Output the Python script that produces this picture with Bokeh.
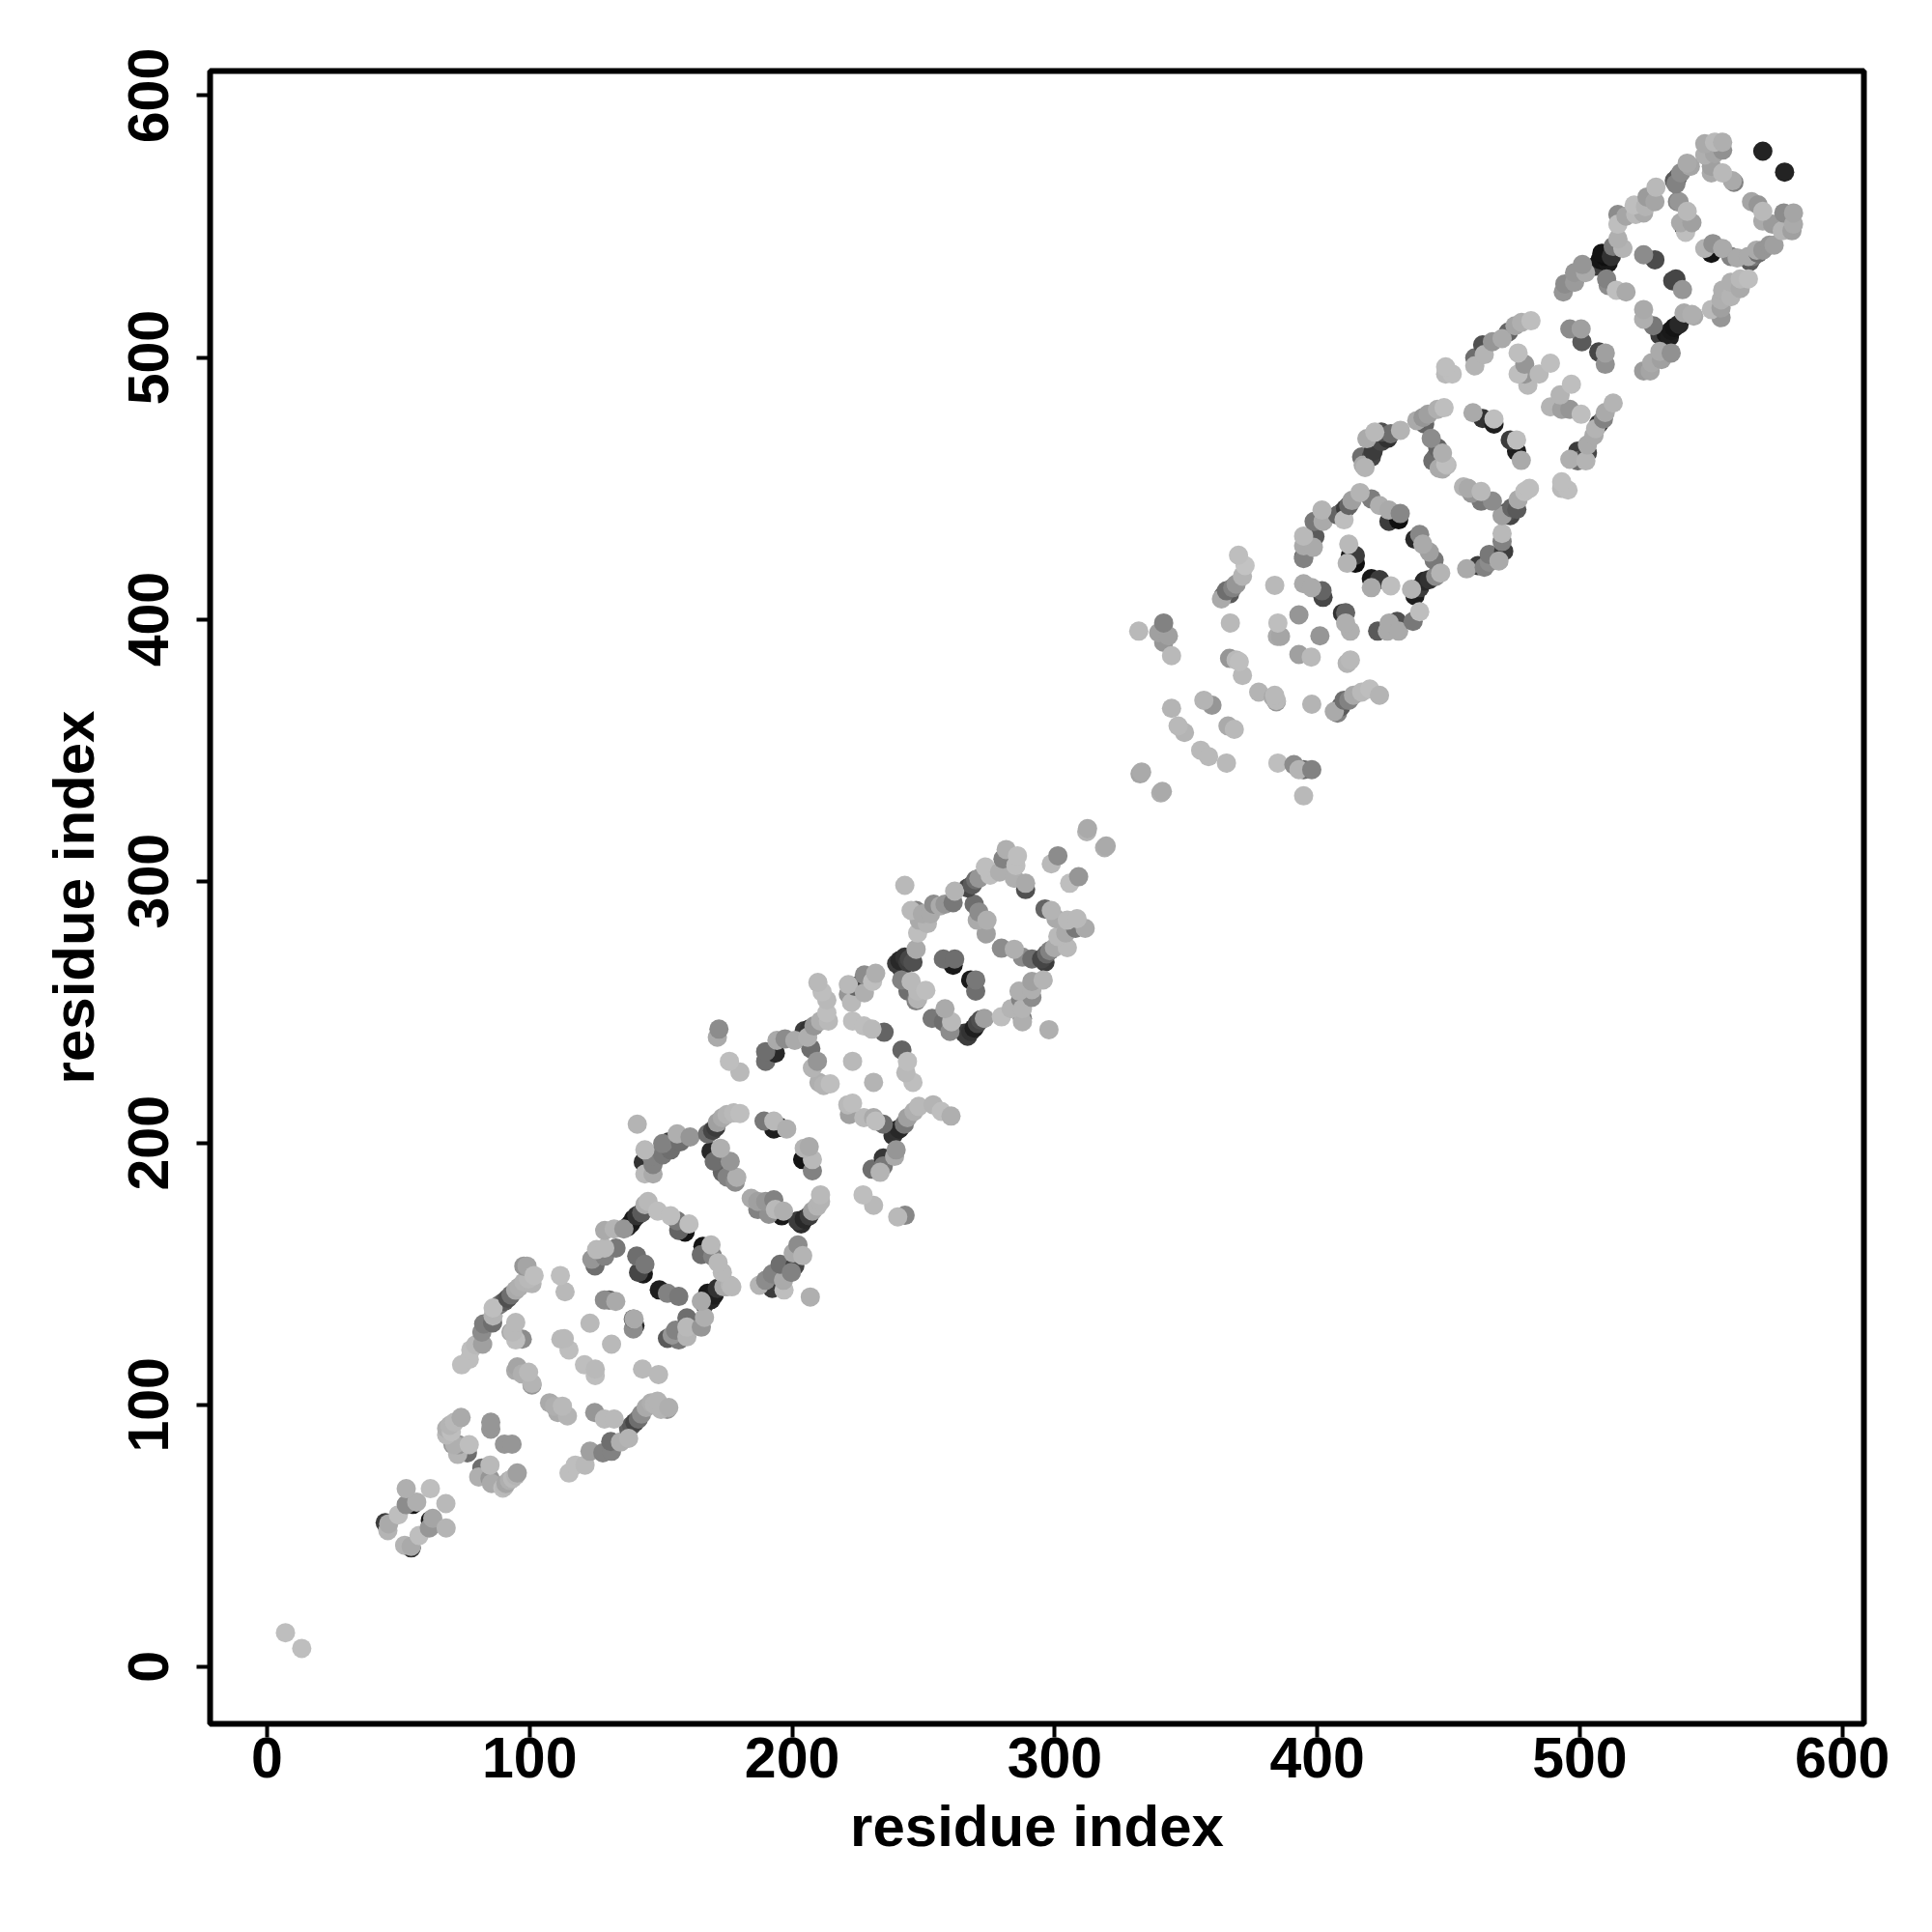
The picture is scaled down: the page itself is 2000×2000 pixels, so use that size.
from bokeh.plotting import figure
from bokeh.models import ColumnDataSource, FixedTicker, LinearColorMapper, Range1d
from bokeh.embed import file_html
from bokeh.resources import INLINE

# (residue i, residue j, grey level), one list per helix region
region_ends = [(7,13,190),(13.2,7,190),(569.7,578.8,35),(578,570.8,35)]
region_a = [(53,68,175),(62.2,68,190),(68.1,62.3,185),(68.2,53,180),(53,61.9,140),(55.5,62,20),(57,62.9,175),
 (62.2,55.9,25),(63.1,56.7,165),(61.8,53,150),(57.9,50.1,190),(50,58,190),(45,55,60),(46.3,54.6,170),(46,52,180),
 (52.4,46.4,180),(54.9,45.4,50),(54.9,46,170)]
region_b = [(68.4,91,175),(69.6,92.2,180),(71.4,93.4,185),(73.9,95.2,170),(70.2,89.7,190),(68.4,88.5,185),
 (85.2,93.4,150),(85.2,90.7,150),(90.4,85,150),(93.3,85,150),(71.4,84.8,175),(72.6,81.1,180),(70.8,84.8,150),
 (76.3,81.7,110),(72.9,84.8,150),(77,84.8,190),(81.8,75.9,110),(80.6,72.5,175),(84.9,71.9,150),(84.9,77,185),
 (85.5,70,170),(90.4,68.8,185),(91,70,165),(92.3,71.2,175),(93.5,71.9,185),(95.3,74,160),(89.8,68.2,190),(94.7,73,180)]
region_c = [(74.1,115.3,190),(77,117.4,190),(77.6,121,190),(79.4,122.9,185),(82.1,123.2,160),(81.8,127.8,140),
 (82.5,130.9,125),(85.9,131.3,110),(86.1,137,190),(86.1,134,180),(88.6,138.3,120),(90.4,139.5,90),(91.7,140.7,80),
 (92.9,142,110),(94.7,143.8,170),(96,145,175),(97.8,146.9,180),(99.6,148.1,185),(97.8,153,150),(99,153,165),
 (101.7,149.4,190),(100.9,146.3,180),(94.7,131.5,185),(93.5,127.8,185),(97.2,125.1,140),(94.7,124.8,190),(92.9,127.8,170),
 (111.7,149.4,190),(113.5,143.2,185),(123,131.2,185),(111.9,125.1,185),(113.2,125.3,185),(115,121,190),(120.9,115.3,190),
 (125,113.7,185),(125,111.2,190),(131.2,123.2,185),(143,113.7,185),(149.1,111.6,185),
 (128.5,140.1,140),(132.8,139.5,170),(130.3,140.1,100),(139.5,132.8,110),(139.8,132.8,170),(139.5,129,140),(140.1,130.3,40)]
region_d = [(95.3,114.5,165),(94.7,113.1,170),(97.2,111.8,175),(99.6,112.5,185),(100.9,108.2,180),(100.9,107.6,150),
 (107.6,100.8,170),(109.5,99.5,175),(112.5,99.5,185),(114.4,95.8,180),(110.7,97.1,170),(124.8,97.1,150),(128.5,94.6,185),
 (132.2,94.6,185),(115,74,190),(117.4,77,190),(121.1,77,185),(123,82.3,160),(127.9,81.7,130),(131.2,82.3,130),(130.9,86,110),
 (134.6,85.8,175),(137.7,87.2,180),(137.7,91,100),(138.9,92.2,90),(140.1,93.4,70),(141.4,94.6,110),(142.6,96.5,140),
 (144.4,99,170),(146.3,100.8,175),(148.7,101.4,180),(152.4,98.3,150),(153,99,175),(150,98.3,180),(147.5,100.2,180)]
region_e = [(124.9,153.1,110),(125.5,159.3,185),(123.7,155.6,150),(128.6,156.8,130),(132.9,159.9,120),(128.6,159.9,185),
 (128.6,166.6,170),(132.2,167.2,180),(135.9,167.2,150),(137.2,167.9,40),(138.4,169.1,30),(139.6,171,25),(140.8,172.2,50),
 (142.7,173.4,90),(143.9,176.5,175),(145.1,177.7,185),(148.8,174,190),(153.7,172.2,190),(156.2,170.3,120),(156.8,166.6,100),
 (159.2,166,20),(160.7,169.1,190),(166,160.5,20),(165.4,157.4,110),(169.1,161.1,185),(169.7,156.8,130),(171.8,154.3,185),
 (173.4,150.6,185),(176.4,145.7,180),(174,145.1,170),(167.8,142.6,25),(170.3,142,30),(169.1,140.2,40),(166.6,138.3,60),
 (171.5,144.5,50),(175.2,145.1,170),(177,145.1,185),(165.4,139.6,170),(166.6,133.4,175),(165.4,129.7,150),(159.9,133.2,110),
 (159.9,129.7,185),(155.6,128.5,130),(159.9,126,180),(152.5,125.4,90),(156.8,124.8,120),(154.3,126.7,150),
 (140.8,156.8,110),(143.9,153.7,120),(143.3,150,25),(141.5,150.6,70),(149.4,143.9,30),(152.5,142.6,130),(156.8,141.4,120)]
region_f = [(141,207.2,180),(143.9,197.4,185),(143.3,192.7,50),(147,191.8,130),(143.9,188.2,185),(147,188.2,170),(146.4,194.9,130),
 (150.7,195.5,120),(153.7,197.4,110),(150.7,199.8,130),(153.1,200.5,60),(156.2,203.5,175),(157.4,200.5,110),(161.1,202.3,150),
 (167.8,203.5,110),(169.7,204.8,70),(170.9,206,60),(171.5,207.8,160),(173.4,209.7,170),(175.2,210.9,180),(177.7,211.5,185),
 (180.1,211.3,190),(169.1,196.8,40),(172.7,198,175),(170.3,193,110),(173.4,188.8,100),(176.4,193,150),(175.2,187,130),
 (178.9,186.9,175),(178.3,185.1,140),(189.3,208.4,120),(193,208.4,185),(193,205.4,30),(195.4,206,30),(197.9,205.4,175),
 (204.6,198,180),(206.5,198.6,170),(204,193.7,20),(207.7,193.7,185),(207.7,189.4,130)]
region_g = [(184.4,178.9,170),(186.9,177.7,160),(189.9,177.7,150),(193,178.3,130),(186.9,174.6,130),(191.1,172.8,145),(193.6,174.6,185),
 (196.7,174,175),(196,172.2,25),(202.2,170.3,60),(203.4,169.1,45),(204.6,171,40),(206.5,172.2,60),(207.7,174,160),(209.6,175.9,180),
 (210.8,177.7,180),(210.8,180.2,185),(202.2,161.1,140),(204,157,180),(200.4,158,170),(201,153.1,70),(195.4,153.7,110),(199.7,150.6,130),
 (192.4,150,130),(192.4,144.5,60),(187.5,145.7,180),(196.7,147.6,170),(196.9,143.9,190),(206.9,141.2,175),(189.9,147.6,140),
 (172.1,243.5,140),(171.5,240.4,170),(176.1,231.2,190),(180.1,227.1,185),(189.9,234.9,110),(189.9,231.2,110),(193.6,234.3,40),
 (194.2,239.2,170),(197.3,239.8,140),(201,239.2,170)]
region_h = [(204.6,242.9,60),(206.5,243.5,50),(205.9,240.4,175),(208.3,244.7,150),(210.8,246.6,175),(213.2,249.7,190),(213.8,246.6,185),
 (213.2,254.6,185),(211.4,257.7,190),(209.8,261.3,185),(207.1,236.1,110),(209.6,231.2,150),(207.7,228.7,180),(210.2,223.2,175),
 (214.5,222.6,190),(212,222,180),(223,246.6,190),(230.4,243.5,185),(227.3,244.7,190),(235,242.3,100),(223,231.2,185),(231,223.2,180),
 (241.8,235.5,100),(243.9,231.2,190),(243.3,226.9,185),(246,223.2,190),(221.2,214.6,185),(223,215.2,190),(221.8,210.9,160),
 (227.3,209.7,185),(231,209.7,170),(234.7,207.2,110),(231.8,208.4,190),(238.4,202.9,50),(239.6,204.8,50),(240.8,205.4,40),
 (242.7,207.2,120),(243.9,209.7,160),(246.4,212.1,175),(248.2,214,185),(253.7,214.6,180),(256.8,212.1,190),(260.5,210.3,175),
 (239.6,197.4,150),(234.7,194.3,55),(239,194.9,170),(230.4,190,110),(234.7,191.2,120),(233.5,188.8,180),(227,180.2,190),(231,176.2,185),
 (240.2,171.8,185),(243,172.4,135)]
region_i = [(222.6,253.7,185),(221.4,260.5,185),(223.9,259.9,100),(221.4,256.8,150),(227.5,257.4,175),(226.9,261.7,60),(227.5,264.2,140),
 (230.6,261.7,190),(231.8,264.8,175),(242.9,298.4,185),(245.3,288.8,185),(247.2,288.8,130),(251.5,283.8,180),(248.4,285.1,170),
 (247.8,280.2,190),(249.6,287.5,170),(253.9,291.2,140),(252.7,287.5,170),(258.2,291.2,150),(256.4,290.6,170),(261.3,291.8,120),
 (261.9,296.2,180),(266.8,297.4,70),(268.6,298.6,90),(269.9,300.5,110),(271.1,301.1,150),(273.6,305.4,190),(275.4,302.3,190),
 (279,303.5,175),(281.5,312.1,175),(280.3,308.5,130),(285.8,309.7,190),(285.2,306,190),(284.6,301.1,175),(288.9,299.2,170),(288.9,296.8,80),
 (301.2,309.7,140),(298.7,306.6,185),(309.1,301.7,150),(305.7,299.2,190),(312.5,320.1,170),(312.2,318.9,180),(319,312.8,175),(319.6,313.4,170)]
region_j = [(269.3,291.2,110),(271.1,288.2,140),(274.2,285.1,175),(273.9,279.9,160),(270.5,285.1,170),(296.3,289.4,100),(298.7,288.8,180),
 (300.5,285.7,170),(304.8,285.1,185),(308.5,285.7,185),(307.9,282,120),(311.6,282,170),(301.2,278.9,185),(304.2,280.2,170),(304.8,274.6,185),
 (279.7,274.4,140),(284.6,274,175),(287.7,271,140),(291.3,270.3,110),(295,270.3,70),(296.9,272.2,100),(298.1,273.4,130),(296.3,269.1,60),
 (299.9,274.6,170),(239.8,268.5,60),(241,269.7,40),(242.9,271,50),(244.7,270.3,70),(246,269.1,80),(247.2,274,170),(241.7,266.6,40),(244.1,269.1,60),
 (241.7,262.3,130),(245.3,261.7,185),(244.1,258,110),(247.8,258,185),(250.9,258.3,190),(247.2,254.3,130),(247.8,255,180),
 (257.6,270.3,110),(261.9,270.3,110),(261.3,267.9,25),(268,262.3,25),(269.9,262.3,120),(269.9,258,110)]
region_k = [(253.3,247.6,120),(258.2,251.3,170),(257.6,246.3,110),(260.7,246.3,185),(260.1,242.6,140),(265.6,242,60),(266.8,240.8,60),(268,242.6,50),
 (269.3,243.9,30),(270.5,245.7,70),(271.7,247,80),(273.2,247.6,160),(279.7,248.2,190),(283.4,251.3,180),(287.7,247.6,120),(287.7,251.3,180),
 (287,255,130),(286.4,258,175),(291.3,255.6,140),(291.3,258.6,175),(291.3,261.7,160),(295.6,262.3,180),(287.7,246.3,175),(297.8,243.3,175),
 (332.5,341,165),(333.1,341.7,170),(340.4,333.7,175),(341,334.3,170)]
region_l = [(332,395.5,185),(341.5,398.6,130),(339.6,394.9,160),(343.3,393.7,160),(341.5,391.2,150),(344.5,386.1,185),(344.5,366,180),(347,359.3,185),
 (349.4,356.8,180),(355.6,350,185),(358.6,347.6,185),(365.4,345.1,185),(356.8,369.1,180),(359.9,367.2,150),(366,359.3,170),(368.4,358,185),
 (366.9,398.6,185),(370,424.5,190),(372.5,420.5,195),(371.5,416.5,180),(365.4,410.9,110),(364.2,409,100),(367.8,412.1,130),(363.5,407.8,170),
 (366.6,409.7,90),(369.1,413.4,150),(383.8,413,185),(366.6,385.1,150),(370.3,383.8,190),(369.1,384.5,185),(371.5,378.6,185),(377.7,372.2,180),
 (383.2,370.3,170),(384.4,368.5,150),(383.8,371,185),(384.4,369,185),(385,398.6,190),(386,393.5,165),(384.8,393.5,170),(393,401.7,150),(401,393.7,150),
 (393,386.6,160),(397.7,385.6,185),(394.8,413.6,170),(397.9,412.1,170),(401.8,410.9,100),(402.2,408.4,70),(385,345.1,190),(391.1,344.5,140),
 (393,342.6,180),(394.8,342.6,110),(397.9,342.6,130),(394.8,332.6,185),(397.9,367.6,180)]
region_m = [(407.7,364.2,130),(408.9,366.6,90),(410.2,369.1,110),(412,369.1,130),(413.8,371,170),(416.9,372.2,185),(420,373.4,190),(423.7,371,180),
 (406.5,364.8,170),(412.6,384.5,185),(411.4,383.2,180),(409.6,402.3,50),(410.8,402.5,100),(410.8,398.6,175),(412.6,395.5,175),(412,428.7,185),
 (414.5,424.4,60),(412.6,424.4,25),(414.5,421.4,15),(411.4,421.4,180),(420.6,415.5,25),(423.7,415.2,60),(428,412.8,190),(420.6,412.1,170),
 (427.4,398.6,170),(423,395.5,90),(430.4,399.2,80),(431,395.5,170),(439,402.9,190),(436.5,399.2,120),(426.7,395.5,170),(435.9,411.5,180),
 (437.2,409,30),(439,412.1,60),(440.8,414.6,40),(442.7,415.2,50),(445.1,416.4,140),(447,417.7,180),(444.5,422.6,120),(442.7,425.7,160),
 (440.2,428.7,170),(439,432.4,135),(437.2,430.6,40),(431,438,15),(427.3,437.4,60),(431.6,440.4,135),(427.3,441.7,170),(423.7,443.5,175),
 (420.6,446,125),(416.3,448.4,180),(413.2,445.4,160),(412,443.5,100),(410.8,442.3,60),(409.6,441,60),(407.7,439.8,100),(410.2,438,190),
 (401.8,441.7,180),(398.8,437.4,120),(402.2,437.4,170),(394.8,431.8,185),(399.1,431.6,90),(394.8,428.1,170),(398.5,427.5,170),(394.8,423.8,100),(394.8,423.2,130)]
region_n = [(417.5,458.9,170),(420.6,462,70),(416.9,462,110),(449.4,458.9,185),(445.1,462,110),(446.4,457.7,170),(418.9,469,170),(417.6,461.7,100),
 (421.9,471.5,185),(421.3,464.2,60),(424.4,471.5,80),(424.4,467.9,70),(428,470.9,110),(431.7,472.2,180),(426.8,469.1,50),(418.2,458,180),
 (437.9,475.9,170),(440.3,477.1,150),(442.2,478.3,160),(445.8,480.2,175),(448.3,480.8,190),(440.9,474.6,100),(443.4,469.1,140),(445.9,465.4,100),
 (447.7,463.5,175),(448.9,459.3,190),(447.7,457.4,170),(444,460.5,110),(459.3,478.9,170),(463,476.7,50),(467.3,476.5,190),(467.3,474.6,30),
 (473.5,468.5,60),(475.9,468.5,190),(475.9,464.2,30),(477.7,460.7,170),(455.7,450.6,180),(457.5,450,170),(458.7,448.2,150),(462.4,448.8,185),
 (462.4,445.1,120),(466.7,445.1,140),(472.2,440.8,80),(474.1,442.6,100),(476.5,445.7,170),(479,448.8,190),(480.8,450,190),(470.4,439.6,160),
 (473.5,439.6,70),(476,442,90),(470.4,432.8,185),(471,426,60),(470.4,429.7,130),(469.2,422.3,170),(465.5,424.8,120),(461.2,420.5,60),
 (463.6,419.9,130),(456.9,419.3,170),(465.5,421.8,140)]
region_o = [(448.9,496.4,190),(451.4,493.7,190),(448.9,493.7,185),(460,496.8,180),(460,499.8,110),(463.6,501.1,180),(463,504.8,80),(466.7,506,150),
 (470.4,507.2,170),(472.8,509.7,100),(475.3,512.1,165),(477.8,513.4,175),(481.4,514,190),(476.5,501.7,190),(479,497.4,150),(476.5,493.7,190),
 (480.2,489.4,185),(479,493.7,150),(484.5,493.7,185),(488.8,497.8,190),(496.2,510.9,140),(500.8,506,90),(500.5,510.9,160),(507.2,502.1,70),
 (509.7,501.7,160),(509.7,497.4,145),(496.8,489.8,190),(492.5,485.7,180),(488.8,481.1,180),(493.1,480.2,160),(496.2,480.2,150),(500.5,478.3,190),
 (496.2,461.1,175),(499.2,464.2,60),(502.9,463.6,70),(502.9,466.6,170),(505.4,470.3,170),(507.2,474.6,50),(509,476.5,130),(509.7,479,170),
 (512.7,482.6,180),(506,472.8,180),(499.2,460.5,110),(502.3,460.5,180),(493.1,452.5,190),(495.5,449.4,190),(493.1,450,185)]
region_p = [(493.7,525,150),(494.3,528.1,140),(498,528.7,155),(498,532.4,150),(501,535.5,150),(502.2,532.4,170),(505.9,534.9,60),(507.8,537.3,20),
 (509.6,538.6,15),(510.8,536.1,25),(508.4,539.8,20),(512,538.6,50),(512.7,542.4,120),(516.4,541.6,180),(514.5,545.3,175),(510.2,530,130),
 (510.8,527.5,140),(513.9,525.7,190),(517.6,525,170),(524.3,539.2,140),(528.6,537.3,75),(535.4,529.3,70),(536.6,530,70),(539.1,525.9,150),
 (524.3,518.3,170),(524.3,514.6,175),(528,512.1,120),(530.5,508.5,60),(532.9,509,25),(534.8,510.3,25),(536,511.5,20),(537.8,512.7,40),
 (534.1,507.8,30),(539.7,517,170),(542.7,516.4,175),(543.4,515.8,170),(524.3,494.9,155),(526.8,494.9,165),(527.4,498,170),(531.1,499.2,160),
 (530.5,502.3,170),(534.8,501.7,145),(550.1,518.3,185),(553.8,515.2,150),(553.8,518.9,160),(553.8,522,175),(557.5,523.2,180),(556.2,525.7,130),
 (554.4,525.7,175),(557.5,528.7,175),(561.1,530,185),(564.2,530,190),(561.1,526.3,170)]
region_q = [(514.5,554.6,140),(514.5,550.9,190),(517.6,554,165),(521.3,554.6,185),(520.7,558.2,190),(524.3,555.2,170),(525.6,561.3,155),(528.6,559.5,165),
 (529,565,185),(525,557.6,180),(536,567.5,90),(537.2,568.7,90),(538.4,570.5,140),(536.6,566.3,130),(542.1,573,165),(540.9,574.2,170),(547.6,581.6,170),
 (551.3,582.2,185),(554.4,582.2,175),(547.6,577.3,175),(551.3,577.9,165),(554.4,579.2,145),(550.1,573,160),(550.1,570.5,170),(554.4,570.5,185),
 (558.1,567.5,170),(558.7,566.9,130),(537.8,559.5,150),(537.2,559.5,130),(540.9,555.8,185),(542.7,551.5,160),(539.7,549.6,30),(538.4,551.5,170),
 (540.3,547.8,190),(565.4,559.5,165),(567.9,558.3,150),(569.7,555.8,185),(569.7,552.1,170),(577.7,555.2,140),(581.4,555.2,165),(581.4,550.9,170),
 (580.8,548.4,160),(577.1,548.4,180),(573.4,550.9,155),(547.6,541.6,180),(550.7,543.5,145),(550.1,539.8,20),(554.4,541.6,170),(557.5,538.6,130),
 (559.9,538,170),(564.8,536.7,90),(566.1,538.6,120),(567.9,539.8,110),(569.7,541,150),(572.2,542.9,150),(574,542.9,160),(564.2,538.6,170),(567.3,541,170)]

tick_values = [0, 100, 200, 300, 400, 500, 600]
axis_label = "residue index"

points = (region_ends + region_a + region_b + region_c + region_d + region_e + region_f + region_g + region_h
          + region_i + region_j + region_k + region_l + region_m + region_n + region_o + region_p + region_q)
# later residues are drawn over earlier ones, and lighter contacts tend to sit over darker neighbours
points = sorted(points, key=lambda r: r[0] + r[1] + 0.08 * r[2])
source = ColumnDataSource(dict(i=[r[0] for r in points], j=[r[1] for r in points], level=[r[2] for r in points]))

grey = ["#%02x%02x%02x" % (g, g, g) for g in range(256)]
mapper = LinearColorMapper(palette=grey, low=0, high=255)

p = figure(frame_width=1712, frame_height=1711, width=1980, height=1969,
           x_range=Range1d(-21.7, 608.2), y_range=Range1d(-21.8, 609.4),
           output_backend="svg", toolbar_location=None,
           min_border_left=217, min_border_right=51, min_border_top=73, min_border_bottom=185)
p.scatter("i", "j", source=source, size=20, marker="circle",
          fill_color={"field": "level", "transform": mapper}, line_color=None)

p.grid.visible = False
p.outline_line_color = "black"
p.outline_line_width = 6
for ax in (p.xaxis[0], p.yaxis[0]):
    ax.ticker = FixedTicker(ticks=tick_values)
    ax.minor_tick_line_color = None
    ax.axis_line_color = None
    ax.major_tick_line_color = "black"
    ax.major_tick_line_width = 4
    ax.major_tick_out = 14
    ax.major_tick_in = 0
    ax.major_label_text_font = "Liberation Sans"
    ax.major_label_text_font_style = "bold"
    ax.major_label_text_font_size = "59px"
    ax.major_label_text_color = "black"
    ax.axis_label = axis_label
    ax.axis_label_text_font = "Liberation Sans"
    ax.axis_label_text_font_style = "bold"
    ax.axis_label_text_font_size = "60px"
    ax.axis_label_text_color = "black"
p.xaxis[0].major_label_standoff = 0
p.xaxis[0].axis_label_standoff = 14
p.yaxis[0].major_label_orientation = "vertical"
p.yaxis[0].major_label_standoff = 29
p.yaxis[0].axis_label_standoff = 21

open("out.html", "w").write(file_html(p, INLINE))
